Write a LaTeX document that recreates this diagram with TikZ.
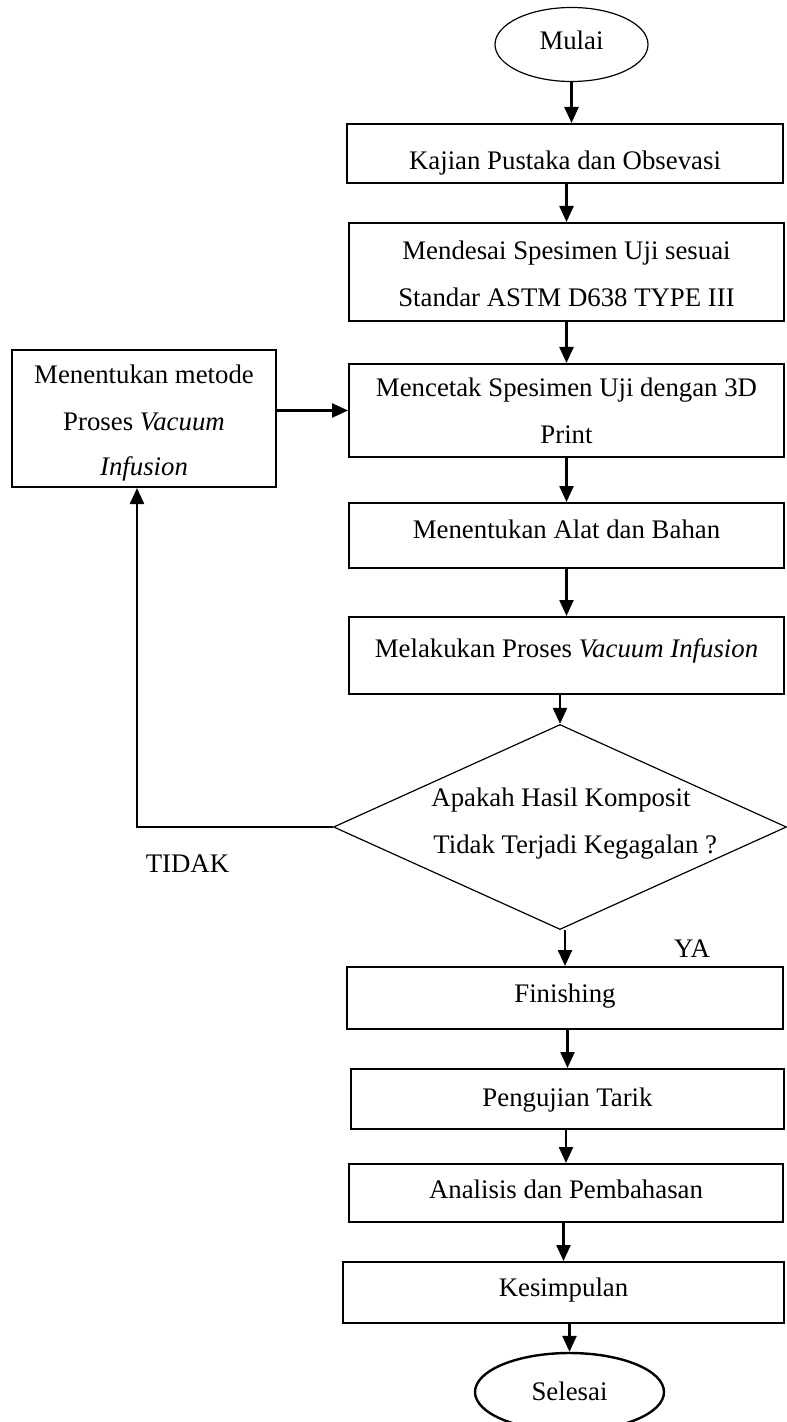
\documentclass[tikz,border=0pt]{standalone}
\usepackage{fontspec}
\setmainfont{Liberation Serif}
\usetikzlibrary{shapes.geometric,arrows.meta}
\begin{document}
\begin{tikzpicture}[x=0.5pt,y=-0.5pt,
  box/.style={draw,line width=1pt,rectangle,inner sep=0pt},
  oval/.style={draw,ellipse,inner sep=0pt},
  txt/.style={anchor=base,inner sep=0pt,align=center,font=\fontsize{13.4}{23.3}\selectfont},
  arr/.style={line width=1.2pt,-{Triangle[width=7pt,length=8pt]}}]
\useasboundingbox (0,0) rectangle (786,1422);
% shapes
\node[oval,line width=0.6pt,minimum width=76.5pt,minimum height=37pt] (mul) at (571.5,44.5) {};
\node[box,minimum width=218pt,minimum height=29.5pt] (b1) at (565,153.5) {};
\node[box,minimum width=217.5pt,minimum height=49pt] (b2) at (566.5,272) {};
\node[box,minimum width=217.5pt,minimum height=46.5pt] (b3) at (566.5,410.5) {};
\node[box,minimum width=217.5pt,minimum height=32.5pt] (b4) at (566.5,535.5) {};
\node[box,minimum width=217.5pt,minimum height=38.5pt] (b5) at (566.5,655.5) {};
\node[draw,diamond,line width=0.6pt,inner sep=0pt,minimum width=226.5pt,minimum height=102.5pt] (dia) at (560,827) {};
\node[box,minimum width=218pt,minimum height=31pt] (fin) at (565,998) {};
\node[box,minimum width=216.5pt,minimum height=30pt] (pen) at (567.5,1099) {};
\node[box,minimum width=217pt,minimum height=29pt] (ana) at (566,1193) {};
\node[box,minimum width=220.5pt,minimum height=30.5pt] (kes) at (563.5,1292.5) {};
\node[oval,line width=1.2pt,minimum width=94.5pt,minimum height=39pt] (sel) at (569.5,1392) {};
\node[box,minimum width=132pt,minimum height=68.5pt] (lb) at (144,418.5) {};
% texts
\node[txt] (tmul) at (571.5,50) {Mulai};
\node[txt] (tb1) at (565,170) {Kajian Pustaka dan Obsevasi};
\node[txt] (tb2a) at (566.5,260) {Mendesai Spesimen Uji sesuai};
\node[txt] (tb2b) at (566.5,307) {Standar ASTM D638 TYPE III};
\node[txt] (tb3a) at (566.5,397) {Mencetak Spesimen Uji dengan 3D};
\node[txt] (tb3b) at (566.5,444) {Print};
\node[txt] (tb4) at (566.5,538) {Menentukan Alat dan Bahan};
\node[txt] (tb5) at (566.5,657) {Melakukan Proses \textit{Vacuum Infusion}};
\node[txt] (tlba) at (144,384) {Menentukan metode};
\node[txt] (tlbb) at (144,430) {Proses \textit{Vacuum}};
\node[txt] (tlbc) at (144,475) {\textit{Infusion}};
\node[txt,anchor=base west] (tdia) at (431,806) {Apakah Hasil Komposit};
\node[txt,anchor=base west] (tdib) at (433,853) {Tidak Terjadi Kegagalan ?};
\node[txt] (tfin) at (565,1002) {Finishing};
\node[txt] (tpen) at (567.5,1106) {Pengujian Tarik};
\node[txt] (tana) at (566,1198) {Analisis dan Pembahasan};
\node[txt] (tkes) at (563.5,1296) {Kesimpulan};
\node[txt] (tsel) at (569.5,1400) {Selesai};
\node[txt] (ttid) at (187.5,872) {TIDAK};
\node[txt] (tya) at (692,957) {YA};
% connectors
\draw[arr] (mul.south) -- (b1.north -| mul.south);
\draw[arr] (b2.north |- b1.south) -- (b2.north);
\draw[arr] (b3.north |- b2.south) -- (b3.north);
\draw[arr] (b4.north |- b3.south) -- (b4.north);
\draw[arr] (b5.north |- b4.south) -- (b5.north);
\draw[arr] (dia.north |- b5.south) -- (dia.north);
\draw[arr] (fin.north |- dia.south) -- (fin.north);
\draw[arr] (pen.north |- fin.south) -- (pen.north);
\draw[arr] (ana.north |- pen.south) -- (ana.north);
\draw[arr] (kes.north |- ana.south) -- (kes.north);
\draw[arr] (sel.north |- kes.south) -- (sel.north);
\coordinate (lbin) at ([xshift=-3.5pt]lb.south);
\draw[arr] (dia.west) -| (lbin);
\draw[arr] (b3.west -| lb.east) -- (b3.west);
\end{tikzpicture}
\end{document}
